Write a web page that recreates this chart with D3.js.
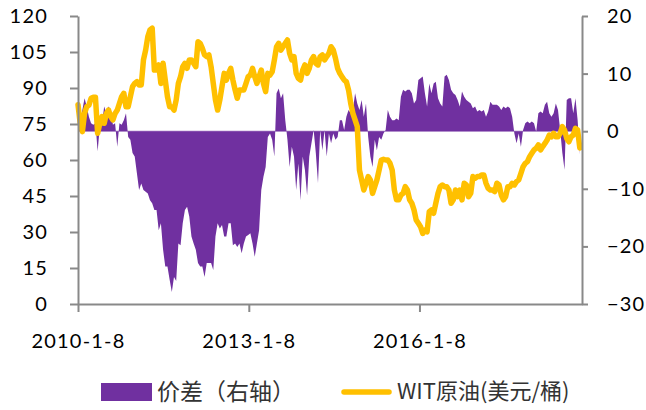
<!DOCTYPE html>
<html>
<head>
<meta charset="utf-8">
<script src="https://cdn.jsdelivr.net/npm/d3@7/dist/d3.min.js"></script>
<style>
  html, body { margin: 0; padding: 0; background: #fff; }
  svg { display: block; }
  .tick text { font-family: Lato, "Open Sans", sans-serif; }
</style>
</head>
<body>
<svg id="chart" width="646" height="410"></svg>
<script>
// Fortnightly observations starting 2010-01-08
const startDate = new Date(2010, 0, 8);
const stepDays = 14;

// WTI crude price, USD/bbl (left axis)
const wti = [
  83.0, 75.3, 71.8, 79.4, 82.2, 82.9, 85.7, 86.1, 86.1, 71.1,
  75.3, 78.1, 75.3, 79.4, 80.8, 78.1, 76.7, 79.4, 80.8, 83.6,
  86.4, 87.8, 82.2, 82.2, 86.4, 90.6, 91.9, 92.6, 91.3, 91.3,
  101.7, 105.8, 111.4, 114.2, 114.9, 97.5, 97.5, 99.6, 91.9, 100.3,
  93.3, 86.4, 82.2, 82.2, 80.8, 85.0, 91.9, 94.7, 98.9, 100.3,
  98.2, 101.7, 101.7, 100.3, 98.9, 109.3, 108.6, 106.5, 103.8, 103.1,
  103.8, 98.9, 91.9, 85.0, 80.8, 85.0, 90.6, 96.1, 93.3, 96.1,
  98.2, 93.3, 89.2, 85.7, 89.2, 89.2, 89.2, 91.9, 94.7, 95.4,
  98.2, 94.7, 91.9, 94.7, 97.5, 91.9, 88.5, 96.1, 95.4, 96.8,
  101.7, 107.2, 108.6, 105.8, 107.2, 108.6, 110.0, 104.4, 101.7, 103.1,
  96.1, 94.0, 93.3, 97.5, 99.6, 96.1, 98.2, 101.7, 103.1, 100.3,
  99.6, 103.1, 103.8, 101.7, 103.1, 104.4, 107.2, 105.8, 102.4, 98.2,
  96.1, 94.7, 93.3, 92.6, 89.2, 83.6, 79.4, 76.7, 73.9, 55.8,
  51.7, 47.5, 50.3, 53.1, 51.7, 46.1, 48.9, 51.7, 55.8, 60.0,
  60.3, 60.0, 60.0, 58.6, 55.8, 47.5, 43.4, 43.4, 45.4, 46.1,
  48.9, 47.5, 43.4, 42.0, 39.2, 35.0, 33.6, 32.2, 29.4, 30.8,
  30.1, 38.5, 39.2, 37.8, 42.0, 46.1, 48.9, 49.6, 48.9, 48.9,
  47.5, 42.0, 43.4, 47.5, 44.7, 47.5, 43.4, 50.3, 49.6, 44.7,
  46.1, 53.1, 52.4, 53.1, 53.1, 53.8, 53.8, 50.3, 48.2, 47.5,
  47.5, 46.8, 50.3, 49.6, 45.4, 43.4, 44.7, 48.9, 48.9, 50.3,
  49.6, 51.0, 51.7, 54.4, 57.2, 58.6, 59.3, 61.4, 62.8, 64.2,
  64.9, 66.3, 64.2, 65.6, 66.9, 68.3, 70.4, 69.7, 71.1, 69.7,
  69.7, 71.1, 73.9, 72.5, 69.0, 67.6, 69.7, 70.4, 73.2, 72.5,
  65.0
];

// Price spread, USD/bbl (right axis)
const spread = [
  2.5, 1.9, 3.7, 5.7, 4.3, 2.5, 1.4, 1.1, 1.4, -3.5,
  0.8, 1.4, 4.3, 3.1, 4.3, 3.7, 1.1, 1.4, -2.7, 1.4,
  1.1, 1.9, 3.1, -1.0, -1.5, -3.8, -4.4, -7.3, -10.2, -9.1,
  -10.2, -10.5, -10.8, -12.0, -12.5, -13.7, -13.7, -17.2, -16.0, -20.6,
  -23.5, -23.5, -25.8, -27.9, -25.3, -26.0, -19.5, -19.8, -16.0, -13.7,
  -13.1, -14.8, -18.3, -19.5, -20.6, -22.9, -23.5, -23.5, -25.3, -22.9,
  -22.9, -22.9, -24.1, -18.3, -16.0, -16.9, -16.3, -18.3, -18.3, -16.0,
  -16.0, -19.8, -19.5, -20.1, -19.5, -21.2, -19.5, -18.3, -18.0, -17.7,
  -19.5, -21.8, -19.5, -17.2, -10.2, -7.9, -6.2, -1.0, -0.4, -1.5,
  -4.4, 6.6, 7.4, 5.7, 6.6, 1.9, -1.5, -6.2, -2.7, -4.4,
  -10.2, -5.6, -12.0, -4.4, -6.7, -11.1, -4.4, -2.1, 0.2, -3.8,
  -9.0, 0.2, -3.3, 0.2, -4.4, -0.4, -2.1, -0.4, -1.5, -1.0,
  1.9, 1.9, 0.2, 2.5, 3.7, 3.1, 3.7, 6.6, 4.8, 3.7,
  5.4, 2.5, 4.8, -1.0, -4.4, -6.2, -1.5, -3.3, -1.0, -1.5,
  -0.4, 0.2, 3.7, 2.5, 1.9, 1.9, 2.2, 1.9, 6.0, 7.2,
  6.9, 7.2, 7.2, 6.6, 4.8, 5.4, 8.9, 9.2, 9.5, 6.6,
  4.3, 8.3, 6.6, 8.3, 8.6, 5.7, 4.8, 4.3, 9.5, 9.8,
  8.9, 7.2, 6.6, 6.3, 5.4, 4.3, 6.9, 6.0, 5.4, 5.1,
  4.8, 4.0, 4.3, 3.4, 3.7, 3.4, 3.7, 2.5, 3.4, 5.1,
  4.6, 4.6, 4.6, 4.3, 3.7, 4.3, 4.0, 4.3, 4.0, 2.5,
  -0.4, -2.1, -0.4, -2.7, 0.2, 1.4, 1.7, 1.4, 1.7, 1.4,
  -0.1, 3.1, 3.4, 3.1, 4.6, 5.1, 3.1, 2.5, 3.1, 4.8,
  3.7, 0.2, -3.8, -6.7, 5.4, 5.7, 5.7, 3.1, 5.7, 1.9,
  -4.0
];

const leftTicks = [0, 15, 30, 45, 60, 75, 90, 105, 120];
const rightTicks = [-30, -20, -10, 0, 10, 20];
const xTickDates = [new Date(2010, 0, 8), new Date(2013, 0, 8), new Date(2016, 0, 8)];
const xTickLabels = ["2010-1-8", "2013-1-8", "2016-1-8"];
const legendLabels = ["价差（右轴）", "WIT原油(美元/桶)"];

const purple = "#7030A0";
const gold = "#FFC000";
const axisGray = "#898989";

const dates = wti.map((_, i) => d3.timeDay.offset(startDate, i * stepDays));
const rows = dates.map((d, i) => ({ date: d, wti: wti[i], spread: spread[i] }));

const plotLeft = 78, plotRight = 582, plotTop = 16, plotBottom = 304;

const x = d3.scaleTime()
  .domain([startDate, new Date(2018, 10, 16)])
  .range([plotLeft, plotRight]);
const yL = d3.scaleLinear().domain([0, 120]).range([plotBottom, plotTop]);
const yR = d3.scaleLinear().domain([-30, 20]).range([plotBottom, plotTop]);

const svg = d3.select("#chart");

// spread area against the zero line of the right axis
svg.append("path")
  .datum(rows)
  .attr("fill", purple)
  .attr("d", d3.area()
    .x(d => x(d.date))
    .y0(yR(0))
    .y1(d => yR(d.spread)));

svg.append("line")
  .attr("x1", x(dates[0])).attr("x2", x(dates[dates.length - 1]))
  .attr("y1", yR(0)).attr("y2", yR(0))
  .attr("stroke", purple).attr("stroke-opacity", 0.55).attr("stroke-width", 1);

// WTI price line
svg.append("path")
  .datum(rows)
  .attr("fill", "none")
  .attr("stroke", gold)
  .attr("stroke-width", 5.5)
  .attr("stroke-linejoin", "round")
  .attr("stroke-linecap", "round")
  .attr("d", d3.line()
    .x(d => x(d.date))
    .y(d => yL(d.wti)));

function styleAxis(g) {
  g.select(".domain").attr("stroke", axisGray).attr("stroke-width", 2);
  g.selectAll(".tick line").attr("stroke", axisGray).attr("stroke-width", 2);
  g.selectAll(".tick text")
    .attr("fill", "#000")
    .style("font-size", "20px")
    .style("letter-spacing", "1.2px");
}

svg.append("g")
  .attr("transform", `translate(${plotLeft},0)`)
  .call(d3.axisLeft(yL).tickValues(leftTicks).tickSize(8).tickSizeOuter(0).tickPadding(22))
  .call(styleAxis);

svg.append("g")
  .attr("transform", `translate(${plotRight},0)`)
  .call(d3.axisRight(yR).tickValues(rightTicks).tickSize(6).tickSizeOuter(0).tickPadding(19))
  .call(styleAxis);

svg.append("g")
  .attr("transform", `translate(0,${plotBottom})`)
  .call(d3.axisBottom(x).tickValues(xTickDates)
    .tickFormat((d, i) => xTickLabels[i]).tickSize(8).tickSizeOuter(0))
  .call(styleAxis)
  .call(g => g.selectAll(".tick text").attr("y", 44).attr("dy", 0));

// legend
const legend = svg.append("g")
  .style("font-family", "'Noto Sans CJK SC', sans-serif")
  .attr("fill", "#333");

legend.append("rect")
  .attr("x", 101).attr("y", 383).attr("width", 51).attr("height", 18)
  .attr("fill", purple);
legend.append("text").attr("x", 157).attr("y", 400)
  .style("font-size", "23px")
  .text(legendLabels[0]);

legend.append("line")
  .attr("x1", 344).attr("x2", 389).attr("y1", 392).attr("y2", 392)
  .attr("stroke", gold).attr("stroke-width", 5.5).attr("stroke-linecap", "round");
legend.append("text").attr("x", 397).attr("y", 399)
  .style("font-size", "22px")
  .text(legendLabels[1]);
</script>
</body>
</html>
